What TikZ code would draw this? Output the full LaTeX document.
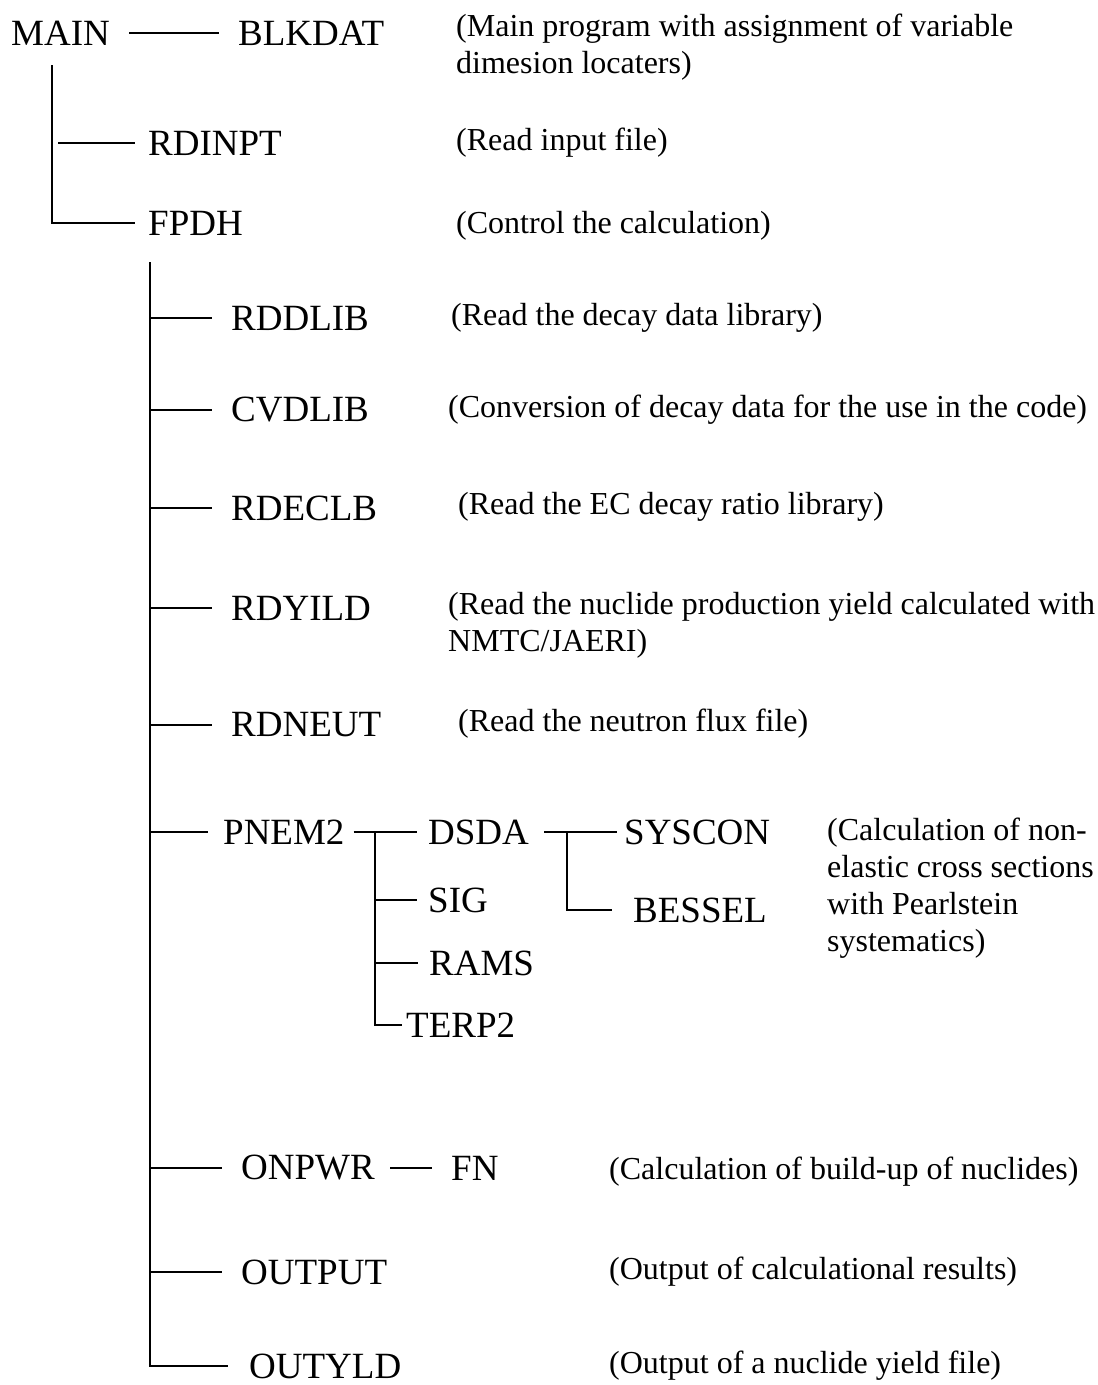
\documentclass[tikz,border=0pt]{standalone}
\usepackage{fontspec}
\setmainfont{Liberation Serif}
\usepackage{tikz}

\begin{document}
\begin{tikzpicture}[
  x=1pt, y=-1pt,
  line width=2.4pt,
  modname/.style={anchor=west, inner sep=0pt, font=\fontsize{37}{42}\selectfont},
  remark/.style={anchor=west, inner sep=0pt, align=left, font=\fontsize{32}{37}\selectfont}
  ]

\useasboundingbox (0,0) rectangle (1098,1385);

\node[modname] (main) at (10,33) {MAIN};
\node[modname] (blkdat) at (237,33) {BLKDAT};
\node[modname] (rdinpt) at (147,143) {RDINPT};
\node[modname] (fpdh) at (147,223) {FPDH};

\node[modname] (rddlib) at (230,318) {RDDLIB};
\node[modname] (cvdlib) at (230,410) {CVDLIB};
\node[modname] (rdeclb) at (230,508) {RDECLB};
\node[modname] (rdyild) at (230,608) {RDYILD};
\node[modname] (rdneut) at (230,725) {RDNEUT};
\node[modname] (pnem) at (222,832) {PNEM2};
\node[modname] (onpwr) at (240,1168) {ONPWR};
\node[modname] (output) at (240,1272) {OUTPUT};
\node[modname] (outyld) at (248,1366) {OUTYLD};

\node[modname] (dsda) at (427,832) {DSDA};
\node[modname] (sig) at (427,900) {SIG};
\node[modname] (rams) at (428,963) {RAMS};
\node[modname] (terp) at (405,1025) {TERP2};
\node[modname] (syscon) at (623,832) {SYSCON};
\node[modname] (bessel) at (632,910) {BESSEL};
\node[modname] (fn) at (450,1168) {FN};

\node[remark] (r-main) at (455,47) {(Main program with assignment of variable\\dimesion locaters)};
\node[remark] (r-rdinpt) at (455,143) {(Read input file)};
\node[remark] (r-fpdh) at (455,226) {(Control the calculation)};
\node[remark] (r-rddlib) at (450,318) {(Read the decay data library)};
\node[remark] (r-cvdlib) at (447,410) {(Conversion of decay data for the use in the code)};
\node[remark] (r-rdeclb) at (457,507) {(Read the EC decay ratio library)};
\node[remark] (r-rdyild) at (447,625) {(Read the nuclide production yield calculated with\\NMTC/JAERI)};
\node[remark] (r-rdneut) at (457,724) {(Read the neutron flux file)};
\node[remark] (r-pnem) at (826,888) {(Calculation of non-\\elastic cross sections\\with Pearlstein\\systematics)};
\node[remark] (r-onpwr) at (608,1172) {(Calculation of build-up of nuclides)};
\node[remark] (r-output) at (608,1272) {(Output of calculational results)};
\node[remark] (r-outyld) at (608,1366) {(Output of a nuclide yield file)};

\coordinate (mtop) at (52,65);
\coordinate (ftop) at (150,262);
\coordinate (ptop) at (375,832);
\coordinate (dtop) at (567,832);

\draw[shorten <=18pt, shorten >=18pt] (main.east) -- (blkdat.west);
\draw (mtop) |- ([xshift=-12pt]fpdh.west);
\draw ([xshift=6pt]mtop |- rdinpt.west) -- ([xshift=-12pt]rdinpt.west);

\draw (ftop) |- ([xshift=-20pt]outyld.west);
\draw (ftop |- rddlib.west) -- ([xshift=-18pt]rddlib.west);
\draw (ftop |- cvdlib.west) -- ([xshift=-18pt]cvdlib.west);
\draw (ftop |- rdeclb.west) -- ([xshift=-18pt]rdeclb.west);
\draw (ftop |- rdyild.west) -- ([xshift=-18pt]rdyild.west);
\draw (ftop |- rdneut.west) -- ([xshift=-18pt]rdneut.west);
\draw (ftop |- pnem.west) -- ([xshift=-14pt]pnem.west);
\draw (ftop |- onpwr.west) -- ([xshift=-18pt]onpwr.west);
\draw (ftop |- output.west) -- ([xshift=-18pt]output.west);

\draw[shorten <=8pt] (pnem.east) -- ([xshift=-10pt]dsda.west);
\draw (ptop) |- ([xshift=-3pt]terp.west);
\draw (ptop |- sig.west) -- ([xshift=-10pt]sig.west);
\draw (ptop |- rams.west) -- ([xshift=-10pt]rams.west);

\draw[shorten <=14pt] (dsda.east) -- ([xshift=-6pt]syscon.west);
\draw (dtop) |- ([xshift=-20pt]bessel.west);

\draw[shorten <=14pt, shorten >=18pt] (onpwr.east) -- (fn.west);

\end{tikzpicture}
\end{document}
